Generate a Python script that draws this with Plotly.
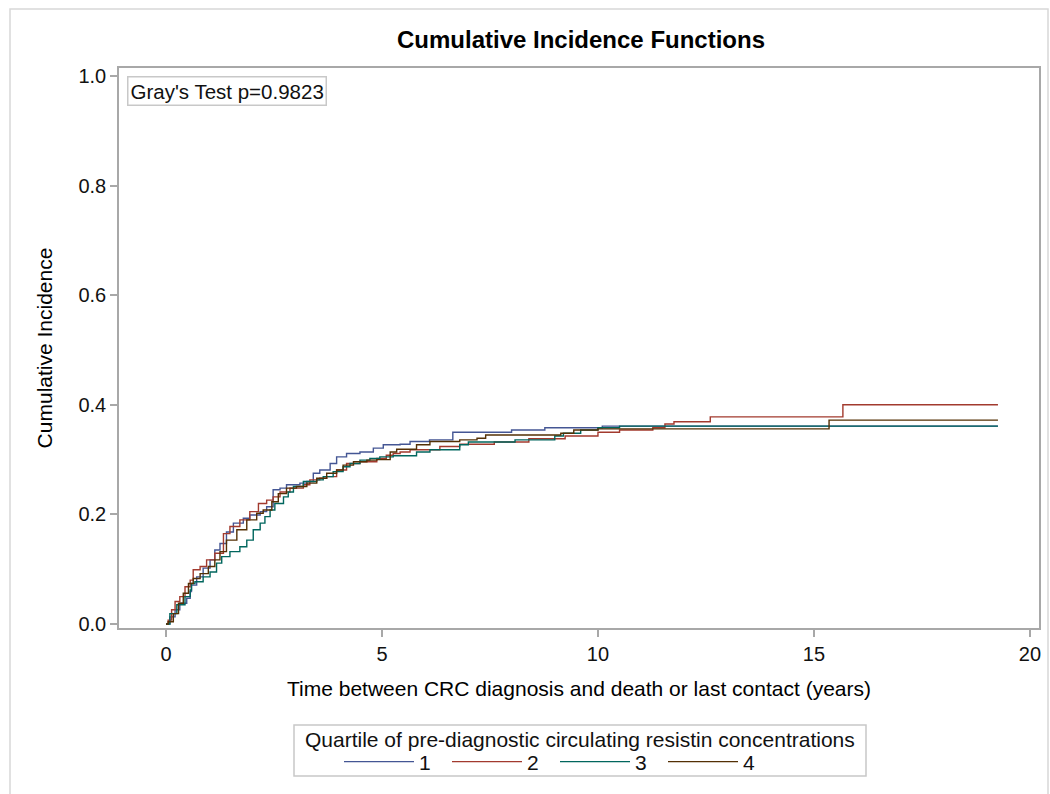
import plotly.graph_objects as go

# ---- data ----
t1 = [0, 0.09, 0.21, 0.32, 0.48, 0.56, 0.59, 0.71, 0.86, 1.02, 1.13, 1.25, 1.40, 1.56, 1.79, 1.94, 2.18, 2.33,
      2.48, 2.64, 2.79, 3.10, 3.26, 3.41, 3.56, 3.80, 3.95, 4.18, 4.49, 4.80, 5.03, 5.42, 5.65, 6.10, 6.64,
      8.00, 8.77, 10.10, 19.26]
c1 = [0, 0.013, 0.026, 0.038, 0.047, 0.059, 0.071, 0.086, 0.102, 0.117, 0.135, 0.147, 0.168, 0.184, 0.193, 0.199,
      0.205, 0.214, 0.245, 0.248, 0.254, 0.257, 0.260, 0.275, 0.281, 0.293, 0.305, 0.311, 0.314, 0.321, 0.327,
      0.328, 0.333, 0.336, 0.350, 0.354, 0.358, 0.361, 0.361]

t2 = [0, 0.05, 0.13, 0.21, 0.32, 0.44, 0.56, 0.63, 0.79, 0.94, 1.13, 1.33, 1.48, 1.71, 1.94, 2.14, 2.33, 2.48,
      2.64, 2.87, 3.18, 3.33, 3.56, 3.72, 3.95, 4.18, 4.49, 4.88, 5.10, 5.26, 5.42, 5.65, 6.34, 6.80, 7.60,
      8.40, 9.24, 10.00, 10.50, 11.27, 11.55, 11.76, 12.60, 15.67, 19.26]
c2 = [0, 0.007, 0.026, 0.041, 0.050, 0.068, 0.080, 0.099, 0.105, 0.117, 0.129, 0.165, 0.178, 0.190, 0.205,
      0.220, 0.226, 0.232, 0.241, 0.248, 0.254, 0.263, 0.266, 0.269, 0.281, 0.293, 0.296, 0.302, 0.308, 0.311,
      0.314, 0.318, 0.324, 0.328, 0.332, 0.338, 0.343, 0.350, 0.354, 0.358, 0.365, 0.369, 0.378, 0.400, 0.400]

t3 = [0, 0.09, 0.25, 0.44, 0.56, 0.59, 0.67, 0.86, 1.02, 1.17, 1.29, 1.48, 1.71, 1.87, 2.02, 2.18, 2.29, 2.41,
      2.52, 2.72, 2.83, 2.95, 3.18, 3.49, 3.64, 3.87, 4.10, 4.26, 4.49, 4.72, 4.95, 5.26, 5.80, 6.11, 6.80,
      7.00, 8.08, 9.00, 9.20, 9.60, 10.00, 10.50, 19.26]
c3 = [0, 0.019, 0.035, 0.050, 0.062, 0.074, 0.077, 0.086, 0.095, 0.111, 0.123, 0.132, 0.141, 0.153, 0.172,
      0.184, 0.196, 0.208, 0.220, 0.232, 0.241, 0.251, 0.260, 0.263, 0.269, 0.278, 0.287, 0.293, 0.299, 0.302,
      0.305, 0.307, 0.314, 0.318, 0.327, 0.332, 0.336, 0.343, 0.348, 0.354, 0.358, 0.361, 0.361]

t4 = [0, 0.05, 0.17, 0.29, 0.40, 0.52, 0.63, 0.79, 0.98, 1.13, 1.25, 1.40, 1.64, 1.87, 2.10, 2.25, 2.45, 2.60,
      2.79, 3.02, 3.26, 3.49, 3.72, 3.95, 4.10, 4.34, 4.65, 4.88, 5.19, 5.34, 5.80, 6.11, 6.80, 7.20, 7.40,
      9.14, 9.44, 10.00, 15.35, 19.26]
c4 = [0, 0.004, 0.019, 0.038, 0.056, 0.074, 0.083, 0.092, 0.105, 0.117, 0.132, 0.153, 0.172, 0.190, 0.202,
      0.208, 0.223, 0.238, 0.248, 0.251, 0.257, 0.266, 0.275, 0.281, 0.290, 0.296, 0.299, 0.300, 0.314, 0.319,
      0.327, 0.333, 0.336, 0.339, 0.345, 0.348, 0.354, 0.356, 0.372, 0.372]

names = ["1", "2", "3", "4"]
times = [t1, t2, t3, t4]
cifs = [c1, c2, c3, c4]
colors = ["#445694", "#A23A2E", "#01665E", "#543005"]

x_ticks = [0, 5, 10, 15, 20]
y_ticks = [0.0, 0.2, 0.4, 0.6, 0.8, 1.0]

FONT = "Liberation Sans, Arial, sans-serif"
AXC = "#a8a8a8"

fig = go.Figure()
for n, t, c, col in zip(names, times, cifs, colors):
    fig.add_trace(go.Scatter(x=t, y=c, mode="lines", name=n,
                             line=dict(color=col, width=1.4, shape="hv")))

L, R, T, B = 119, 11, 68, 166
W, H = 1050, 794
pw, ph = W - L - R, H - T - B

def px_x(p):
    return (p - L) / pw

def px_y(p):
    return (H - B - p) / ph

fig.update_layout(
    width=W, height=H,
    margin=dict(l=L, r=R, t=T, b=B, autoexpand=False),
    paper_bgcolor="white", plot_bgcolor="white",
    font=dict(family=FONT, size=20, color="#000000"),
    title=dict(text="<b>Cumulative Incidence Functions</b>",
               x=px_x(581), xanchor="center", xref="paper",
               y=1 - 40 / H, yanchor="middle",
               font=dict(size=24, family=FONT, color="#000000")),
    xaxis=dict(range=[-1.088, 20.21], tickvals=x_ticks, ticks="outside", ticklen=7,
               tickcolor=AXC, tickwidth=1.5, showline=True, linecolor=AXC, linewidth=1.5,
               mirror=True, showgrid=False, zeroline=False,
               tickfont=dict(size=20, family=FONT, color="#111"),
               title=dict(text="Time between CRC diagnosis and death or last contact (years)",
                          font=dict(size=21, family=FONT, color="#000"), standoff=18)),
    yaxis=dict(range=[-0.0073, 1.0146], tickvals=y_ticks, tickformat=".1f", ticks="outside",
               ticklen=7, tickcolor=AXC, tickwidth=1.5, showline=True, linecolor=AXC,
               linewidth=1.5, mirror=True, showgrid=False, zeroline=False,
               tickfont=dict(size=20, family=FONT, color="#111"),
               title=dict(text="Cumulative Incidence",
                          font=dict(size=21, family=FONT, color="#000"), standoff=20)),
    legend=dict(orientation="h", x=px_x(339), xanchor="left", y=px_y(762), yanchor="middle",
                borderwidth=0, bgcolor="rgba(0,0,0,0)",
                font=dict(size=21, family=FONT, color="#111"),
                itemwidth=70, entrywidth=23, entrywidthmode="pixels", tracegroupgap=0),
    showlegend=True,
)

# legend frame and title
fig.add_shape(type="rect", xref="paper", yref="paper",
              x0=px_x(294), x1=px_x(866), y0=px_y(776), y1=px_y(725),
              line=dict(color="#c8c8c8", width=1.5), fillcolor="white", layer="below")
fig.add_annotation(xref="paper", yref="paper", x=px_x(580), y=px_y(739),
                   xanchor="center", yanchor="middle", showarrow=False,
                   text="Quartile of pre-diagnostic circulating resistin concentrations",
                   font=dict(size=21, family=FONT, color="#111"))

# Gray's test box
fig.add_annotation(xref="paper", yref="paper", x=px_x(127), y=px_y(76),
                   xanchor="left", yanchor="top", showarrow=False,
                   text="Gray's Test p=0.9823",
                   font=dict(size=20.5, family=FONT, color="#111"),
                   bordercolor="#c8c8c8", borderwidth=1.5, borderpad=2, bgcolor="white")

# outer frame
fig.add_shape(type="rect", xref="paper", yref="paper",
              x0=px_x(10), x1=px_x(1048), y0=px_y(810), y1=px_y(9),
              line=dict(color="#d8d8d8", width=1.5), layer="below")

fig.write_html("out.html")
